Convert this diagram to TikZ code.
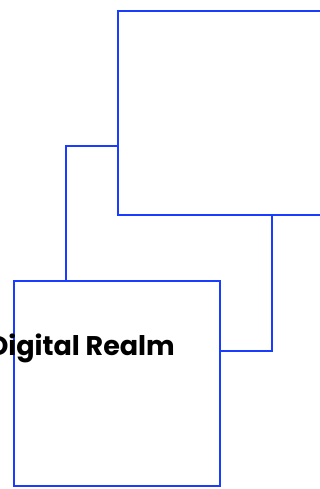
\documentclass[tikz,border=0pt]{standalone}
\usepackage{fontspec}
\setmainfont{Poppins}
\usetikzlibrary{positioning}
\definecolor{realmblue}{RGB}{25,60,255}

\tikzset{
  box/.style={draw=realmblue, line width=2pt, rectangle, inner sep=0pt, outer sep=0pt},
  link/.style={draw=realmblue, line width=2pt},
}

\begin{document}
\begin{tikzpicture}[x=1pt, y=-1pt]
    \useasboundingbox (0,0) rectangle (320,489);
    % the two panels
    \node [box, minimum width=308pt, minimum height=203.5pt] (upper) at (272,113.25) {};
    \node [box, minimum width=206pt, minimum height=205pt, below=66pt of upper, xshift=-155pt] (lower) {};
    % bend points of the links
    \coordinate (bendA) at (66,146);
    \coordinate (bendB) at (272,351);
    \draw [link] (upper.west |- bendA) -| (lower.north -| bendA);
    \draw [link] (upper.south -| bendB) |- (lower.east |- bendB);
    % label
    \node [anchor=base east, font=\bfseries\fontsize{27}{30}\selectfont, inner sep=0pt] (title) at (175,355) {Digital Realm};
\end{tikzpicture}
\end{document}
